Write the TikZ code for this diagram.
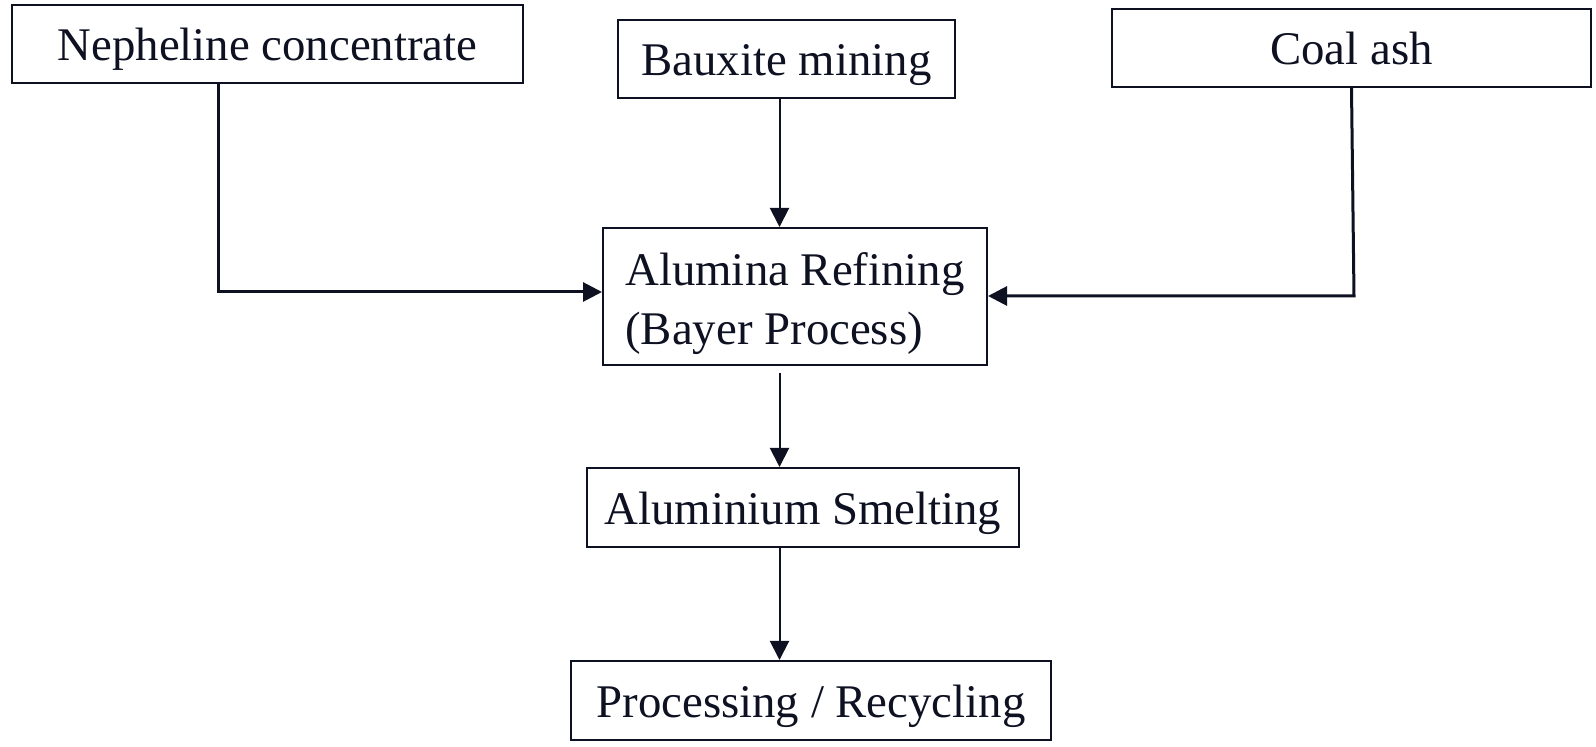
\documentclass[tikz,border=0pt]{standalone}
\usepackage{fontspec}
\setmainfont{Liberation Serif}
\usetikzlibrary{arrows.meta}
\definecolor{ink}{HTML}{0E1122}
\tikzset{
  box/.style={draw=ink, line width=1pt, rectangle, inner sep=0pt, text=ink,
    font=\fontsize{23.4}{29.5}\selectfont},
  oneline/.style={text height=17pt, text depth=0pt},
  arr/.style={draw=ink, line width=1pt, -{Triangle[length=9.5pt,width=9.5pt]}},
  sidearr/.style={draw=ink, line width=1.5pt, -{Triangle[length=9.5pt,width=9.5pt]}}
}
\begin{document}
\begin{tikzpicture}[x=0.5pt,y=-0.5pt]
\useasboundingbox (0,0) rectangle (1596,747);
\node[box,oneline,minimum width=255.5pt,minimum height=39pt] (neph) at (267.5,44) {Nepheline concentrate};
\node[box,oneline,minimum width=168.5pt,minimum height=39pt] (baux) at (786.5,59) {Bauxite mining};
\node[box,oneline,minimum width=239.5pt,minimum height=39pt] (coal) at (1351.5,48) {Coal ash};
\node[box,minimum width=192pt,minimum height=68.5pt,align=left] (alum) at (795,296.5) {\rule{0pt}{24pt}Alumina Refining\\(Bayer Process)};
\node[box,oneline,minimum width=216pt,minimum height=39.5pt] (smelt) at (803,507.5) {Aluminium Smelting};
\node[box,oneline,minimum width=240pt,minimum height=39.5pt] (proc) at (811,700.5) {Processing / Recycling};
\coordinate (cx) at (779.5,0);
\coordinate (nk) at (218,292);
\coordinate (ck) at (1354,296);
\draw[sidearr] (neph.south -| nk) -- (nk) -- (alum.west |- nk);
\draw[sidearr] (coal.south) -- (ck) -- (alum.east |- ck);
\draw[arr] (baux.south -| cx) -- (alum.north -| cx);
\draw[arr, shorten <=3.5pt] (alum.south -| cx) -- (smelt.north -| cx);
\draw[arr] (smelt.south -| cx) -- (proc.north -| cx);
\end{tikzpicture}
\end{document}
